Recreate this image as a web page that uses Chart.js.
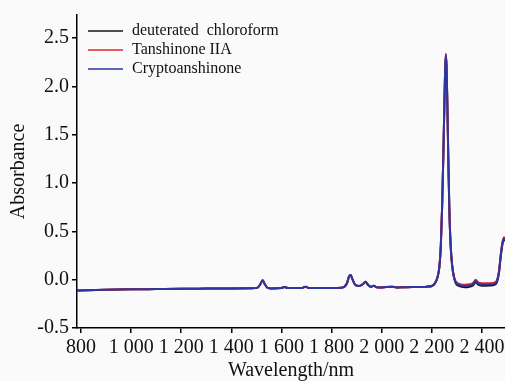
<!DOCTYPE html>
<html>
<head>
<meta charset="utf-8">
<script src="https://cdn.jsdelivr.net/npm/chart.js@4"></script>
<style>
  html, body { margin: 0; padding: 0; background: #fafafa; }
  canvas { display: block; }
</style>
</head>
<body>
<canvas id="chart" width="505" height="381"></canvas>
<script>
// wavelengths (nm) shared by all three spectra
const wavelengths = [784, 900, 1000, 1100, 1200, 1300, 1400, 1480, 1505, 1515,
  1525, 1533, 1545, 1560, 1600, 1612, 1625, 1680, 1696, 1710,
  1800, 1840, 1860, 1870, 1876, 1884, 1895, 1910, 1925, 1935,
  1945, 1958, 1968, 1980, 2000, 2040, 2060, 2100, 2150, 2180,
  2200, 2212, 2222, 2230, 2236, 2241, 2246, 2250, 2253, 2256,
  2259, 2262, 2266, 2270, 2275, 2281, 2288, 2296, 2310, 2330,
  2350, 2365, 2375, 2385, 2400, 2430, 2450, 2460, 2468, 2475,
  2482, 2488, 2496];

const chloroform = [-0.112, -0.105, -0.100, -0.097, -0.094, -0.092, -0.090, -0.089, -0.082, -0.050,
  -0.005, -0.045, -0.085, -0.090, -0.086, -0.076, -0.086, -0.086, -0.072, -0.086,
  -0.085, -0.083, -0.045, 0.035, 0.048, 0.000, -0.055, -0.066, -0.045, -0.022,
  -0.052, -0.075, -0.062, -0.078, -0.080, -0.072, -0.080, -0.077, -0.075, -0.072,
  -0.065, -0.040, 0.02, 0.13, 0.36, 0.75, 1.30, 1.80, 2.15, 2.32,
  2.18, 1.80, 1.22, 0.72, 0.36, 0.15, 0.03, -0.040, -0.067, -0.077,
  -0.072, -0.057, -0.024, -0.052, -0.062, -0.060, -0.052, -0.025, 0.07, 0.24,
  0.37, 0.42, 0.39];

const tanshinone = [-0.112, -0.105, -0.100, -0.097, -0.094, -0.092, -0.090, -0.089, -0.082, -0.050,
  -0.005, -0.045, -0.085, -0.090, -0.086, -0.076, -0.086, -0.086, -0.072, -0.086,
  -0.085, -0.083, -0.045, 0.035, 0.048, 0.000, -0.055, -0.066, -0.045, -0.022,
  -0.052, -0.075, -0.062, -0.078, -0.080, -0.072, -0.080, -0.077, -0.075, -0.072,
  -0.065, -0.040, 0.02, 0.13, 0.36, 0.75, 1.30, 1.80, 2.17, 2.34,
  2.20, 1.80, 1.22, 0.72, 0.36, 0.15, 0.03, -0.020, -0.043, -0.053,
  -0.048, -0.033, 0.000, -0.028, -0.038, -0.036, -0.028, -0.005, 0.09, 0.26,
  0.39, 0.44, 0.41];

const cryptotanshinone = [-0.112, -0.105, -0.100, -0.097, -0.094, -0.092, -0.090, -0.089, -0.082, -0.050,
  -0.005, -0.045, -0.085, -0.090, -0.086, -0.076, -0.086, -0.086, -0.072, -0.086,
  -0.085, -0.083, -0.045, 0.035, 0.048, 0.000, -0.055, -0.066, -0.045, -0.022,
  -0.052, -0.075, -0.062, -0.078, -0.080, -0.072, -0.080, -0.077, -0.075, -0.072,
  -0.065, -0.040, 0.02, 0.13, 0.36, 0.75, 1.30, 1.80, 2.16, 2.33,
  2.19, 1.80, 1.22, 0.72, 0.36, 0.15, 0.03, -0.030, -0.055, -0.065,
  -0.060, -0.045, -0.012, -0.040, -0.050, -0.048, -0.040, -0.015, 0.08, 0.25,
  0.38, 0.43, 0.40];

const seriesNames = ['deuterated  chloroform', 'Tanshinone IIA', 'Cryptoanshinone'];
const seriesColors = ['#151515', '#e5262c', '#2b36a3'];

const xTicks = [800, 1000, 1200, 1400, 1600, 1800, 2000, 2200, 2400];
const yTicks = [-0.5, 0.0, 0.5, 1.0, 1.5, 2.0, 2.5];

const serif = '"Liberation Serif", "DejaVu Serif", serif';

function toPoints(values) {
    return wavelengths.map((w, i) => ({ x: w, y: values[i] }));
}

function formatThousands(v) {
    if (v < 1000) return String(v);
    const rest = String(v % 1000).padStart(3, '0');
    return Math.floor(v / 1000) + ' ' + rest;
}

// legend drawn inside the plot, top left
const insideLegend = {
    id: 'insideLegend',
    afterDraw(chart) {
        const ctx = chart.ctx;
        ctx.save();
        ctx.font = '16px ' + serif;
        ctx.textBaseline = 'middle';
        ctx.fillStyle = '#111';
        seriesNames.forEach((name, i) => {
            const y = 31 + i * 19;
            ctx.strokeStyle = seriesColors[i];
            ctx.lineWidth = 1.5;
            ctx.beginPath();
            ctx.moveTo(88, y);
            ctx.lineTo(123, y);
            ctx.stroke();
            ctx.fillText(name, 132, y);
        });
        ctx.restore();
    }
};

const bgFill = {
    id: 'bgFill',
    beforeDraw(chart) {
        const ctx = chart.ctx;
        ctx.save();
        ctx.fillStyle = '#fafafa';
        ctx.fillRect(0, 0, chart.width, chart.height);
        ctx.restore();
    }
};

// blue is drawn on top, so dataset order is reversed (first = top)
const drawOrder = [2, 1, 0];
const series = [chloroform, tanshinone, cryptotanshinone];

new Chart(document.getElementById('chart'), {
    type: 'line',
    data: {
        datasets: drawOrder.map(i => ({
            label: seriesNames[i],
            data: toPoints(series[i]),
            borderColor: seriesColors[i],
            borderWidth: 2,
            pointRadius: 0,
            cubicInterpolationMode: 'monotone',
            fill: false
        }))
    },
    options: {
        responsive: false,
        animation: false,
        devicePixelRatio: 1,
        layout: { padding: { top: 13, right: 0, left: 0, bottom: 0 } },
        plugins: {
            legend: { display: false },
            tooltip: { enabled: false }
        },
        scales: {
            x: {
                type: 'linear',
                min: 784,
                max: 2492,
                afterBuildTicks: scale => { scale.ticks = xTicks.map(v => ({ value: v })); },
                afterFit: scale => {
                    scale.height = 53;
                    scale.paddingLeft = 0;
                    scale.paddingRight = 0;
                },
                border: { display: true, color: '#000', width: 1.5 },
                grid: { display: true, drawOnChartArea: false, drawTicks: true, tickLength: 5, color: '#000', lineWidth: 1.5 },
                ticks: {
                    color: '#111',
                    padding: 3,
                    maxRotation: 0,
                    autoSkip: false,
                    font: { family: serif, size: 20 },
                    callback: v => formatThousands(v)
                },
                title: {
                    display: true,
                    text: 'Wavelength/nm',
                    color: '#111',
                    font: { family: serif, size: 20, lineHeight: 1 },
                    padding: { top: 0, bottom: 0 }
                }
            },
            y: {
                min: -0.5,
                max: 2.74,
                afterBuildTicks: scale => { scale.ticks = yTicks.map(v => ({ value: v })); },
                afterFit: scale => { scale.width = 77; },
                border: { display: true, color: '#000', width: 1.5 },
                grid: { display: true, drawOnChartArea: false, drawTicks: true, tickLength: 5, color: '#000', lineWidth: 1.5 },
                ticks: {
                    color: '#111',
                    padding: 3,
                    font: { family: serif, size: 20 },
                    callback: v => v.toFixed(1)
                },
                title: {
                    display: true,
                    text: 'Absorbance',
                    color: '#111',
                    font: { family: serif, size: 20, lineHeight: 1 },
                    padding: { top: 9, bottom: 0 }
                }
            }
        }
    },
    plugins: [bgFill, insideLegend]
});
</script>
</body>
</html>
